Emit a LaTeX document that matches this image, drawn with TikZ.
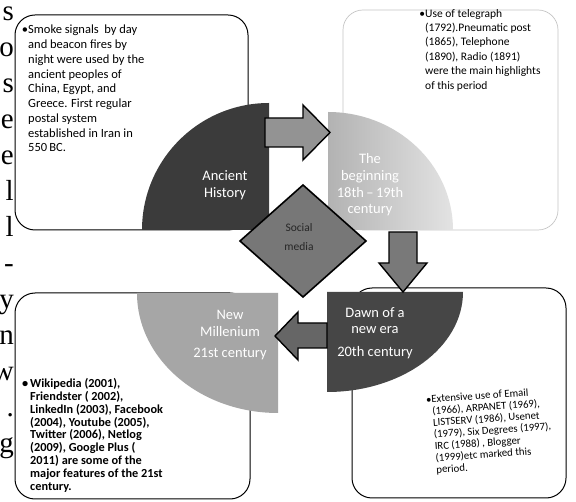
\documentclass[tikz,border=0pt]{standalone}
\usepackage{fontspec}
\setmainfont{Liberation Serif}
\newfontfamily\carl{Carlito}
\definecolor{ancient}{HTML}{3B3B3B}
\definecolor{dawncol}{HTML}{464646}
\definecolor{nmcol}{HTML}{A6A6A6}
\definecolor{diacol}{HTML}{777777}
\tikzset{
  infobox/.style={draw=black, line width=1pt, rounded corners=20pt, fill=white},
  blockarrow/.style={draw=black, line width=1.4pt, line join=miter},
  lbl/.style={text=white, align=center, inner sep=0pt, font=\carl\fontsize{14.5}{16.7}\selectfont},
  info/.style={align=left, inner sep=0pt, anchor=north west},
  edgeletter/.style={anchor=base east, inner sep=0pt, font=\fontsize{29}{29}\selectfont}
}
\begin{document}
\begin{tikzpicture}[x=1pt,y=-1pt]
\useasboundingbox[fill=white] (0,0) rectangle (576,502);
% information boxes
\draw[infobox] (15,15) rectangle (248,230);
\draw[infobox, draw=gray!45, line width=0.7pt] (343,10) rectangle (558,230);
\draw[infobox] (15,293) rectangle (250,499);
\draw[infobox] (352,288) rectangle (566,498);
% left-edge letters of the book page
\foreach \ch [count=\i from 0] in {s,o,s,e,e,l,l,-,y,n,w,.,g}
  \node[edgeletter] (L\i) at (14,{21+36*\i}) {\ch};
% quarter shapes
\fill[ancient] (269,230) -- (269,103) arc[start angle=270,end angle=180,radius=127] -- cycle;
\shade[left color=gray!60, right color=gray!22] (328,230) -- (328,112) arc[start angle=270,end angle=360,x radius=125,y radius=118] -- cycle;
\fill[dawncol] (327,292) -- (463,292) arc[start angle=0,end angle=90,x radius=136,y radius=100] -- cycle;
\fill[nmcol] (278,293) -- (278,413) arc[start angle=90,end angle=180,x radius=141,y radius=120] -- cycle;
% block arrows
\draw[blockarrow, fill=gray!85] (265,118) -- (303,118) -- (303,105) -- (330,132.5) -- (303,160) -- (303,147) -- (265,147) -- cycle;
\draw[blockarrow, fill=gray!95!black] (389,232) -- (417,232) -- (417,263) -- (427,263) -- (403,292) -- (379,263) -- (389,263) -- cycle;
\draw[blockarrow, fill=gray!80!black] (327,323) -- (298,323) -- (298,312) -- (275,336) -- (298,360) -- (298,348) -- (327,348) -- cycle;
% centre diamond
\draw[fill=diacol, draw=black, line width=1.6pt, line join=miter] (303,185) -- (366,241) -- (303,297) -- (240,241) -- cycle;
% labels
\node[lbl] (ah) at (225,185) {Ancient\\History};
\node[lbl] (beg) at (370,185) {The\\beginning\\18th\,–\,19th\\century};
\node[lbl, text=black!85, font=\carl\fontsize{11.5}{19}\selectfont] (sm) at (299,237) {Social\\media};
\node[lbl] (dawn) at (375,333) {Dawn of a\\new era\\[6pt]20th century};
\node[lbl] (nm) at (230,335) {New\\Millenium\\[4pt]21st century};
% texts
\node[info, font=\carl\fontsize{12.5}{14.75}\selectfont] (t1) at (28,25) {\llap{•}Smoke signals\ \ by day\\and beacon fires by\\night were used by the\\ancient peoples of\\China, Egypt, and\\Greece. First regular\\postal system\\established in Iran in\\550\,BC.};
\node[info, font=\carl\fontsize{11.5}{14.4}\selectfont] (t2) at (425,9) {\llap{•}Use of telegraph\\(1792).Pneumatic post\\(1865), Telephone\\(1890), Radio (1891)\\were the main highlights\\of this period};
\node[info, font=\carl\bfseries\fontsize{12.3}{12.9}\selectfont] (t3) at (30,378) {\llap{•\,}Wikipedia (2001),\\Friendster ( 2002),\\LinkedIn (2003), Facebook\\(2004), Youtube (2005),\\Twitter (2006), Netlog\\(2009), Google Plus (\\2011) are some of the\\major features of the 21st\\century.};
\node[info, rotate=4, font=\carl\fontsize{10.8}{11.8}\selectfont] (t4) at (431,395) {\llap{•}Extensive use of Email\\(1966), ARPANET (1969),\\LISTSERV (1986), Usenet\\(1979), Six Degrees (1997),\\IRC (1988) , Blogger\\(1999)etc marked this\\period.};
\end{tikzpicture}
\end{document}
